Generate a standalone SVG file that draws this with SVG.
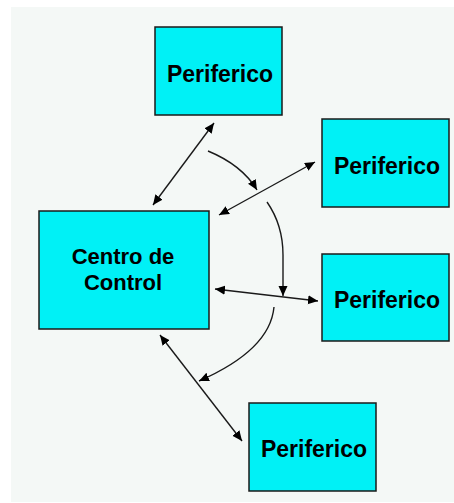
<svg xmlns="http://www.w3.org/2000/svg" width="454" height="503" viewBox="0 0 454 503">
<style>
.box{fill:#00F1F6;stroke:#1a1a1a;stroke-width:1.5}
.lbl{font-family:"Liberation Sans",Arial,sans-serif;font-weight:bold;font-size:23px;fill:#000;text-anchor:middle}
.lbl2{font-size:22px}
.con{fill:none;stroke:#1a1a1a;stroke-width:1.4}
</style>
<defs>
<marker id="ah" markerUnits="userSpaceOnUse" markerWidth="11" markerHeight="10" refX="10" refY="4.5" orient="auto-start-reverse">
<path d="M0,0 L10,4.5 L0,9 z" fill="#000"/>
</marker>
</defs>
<rect x="0" y="0" width="454" height="503" fill="#fff"/>
<rect x="11" y="7" width="443" height="495" fill="#F4F8F6"/>
<g id="centro">
<rect class="box" x="39" y="211" width="170" height="118"/>
<text class="lbl lbl2" x="123" y="264">Centro de</text>
<text class="lbl lbl2" x="123" y="290">Control</text>
</g>
<g id="p1">
<rect class="box" x="155" y="27" width="127" height="88"/>
<text class="lbl" x="220" y="82">Periferico</text>
</g>
<g id="p2">
<rect class="box" x="322" y="119" width="127" height="88"/>
<text class="lbl" x="387" y="174">Periferico</text>
</g>
<g id="p3">
<rect class="box" x="322" y="254" width="127" height="87"/>
<text class="lbl" x="387" y="308">Periferico</text>
</g>
<g id="p4">
<rect class="box" x="249" y="403" width="127" height="88"/>
<text class="lbl" x="314" y="457">Periferico</text>
</g>
<g id="connectors">
<line class="con" x1="153" y1="205" x2="214" y2="123" marker-start="url(#ah)" marker-end="url(#ah)"/>
<path class="con" d="M208,151 Q242,165 257,190" marker-end="url(#ah)"/>
<line class="con" x1="219" y1="215" x2="315" y2="162" marker-start="url(#ah)" marker-end="url(#ah)"/>
<path class="con" d="M267,202 Q283,225 283,255 L283,296" marker-end="url(#ah)"/>
<line class="con" x1="215" y1="289" x2="318" y2="301" marker-start="url(#ah)" marker-end="url(#ah)"/>
<path class="con" d="M274,307 Q270,350 199,381" marker-end="url(#ah)"/>
<line class="con" x1="160" y1="335" x2="242" y2="441" marker-start="url(#ah)" marker-end="url(#ah)"/>
</g>
</svg>
